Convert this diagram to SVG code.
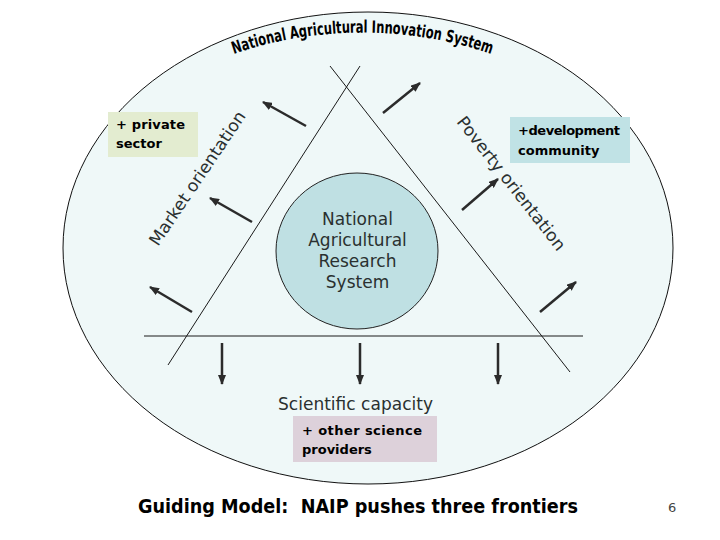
<svg xmlns="http://www.w3.org/2000/svg" width="720" height="540" viewBox="0 0 720 540">
<style>
.lbl{font-family:"DejaVu Sans","Liberation Sans",sans-serif;fill:#2a3030;font-size:17px}
.box{font-family:"DejaVu Sans","Liberation Sans",sans-serif;font-weight:bold;fill:#000;font-size:13px}
.thin{stroke:#1a1a1a;stroke-width:1;fill:none}
.arr{stroke:#2b2b2b;stroke-width:2.5;fill:none;marker-end:url(#ah)}
</style>
<defs>
<marker id="ah" markerUnits="userSpaceOnUse" markerWidth="10" markerHeight="8" refX="9" refY="4" orient="auto">
<path d="M0,0 L10,4 L0,8 z" fill="#2b2b2b"/>
</marker>
<path id="titleArc" d="M225,57 A400,400 0 0 1 500,57"/>
</defs>
<rect width="720" height="540" fill="#ffffff"/>
<g id="nais">
<ellipse cx="368" cy="248" rx="305" ry="236" fill="#eff8f8" stroke="#111" stroke-width="1"/>
<text font-family="'DejaVu Sans','Liberation Sans',sans-serif" font-weight="bold" font-size="17" fill="#000"><textPath href="#titleArc" startOffset="50%" text-anchor="middle" textLength="262" lengthAdjust="spacingAndGlyphs">National Agricultural Innovation System</textPath></text>
</g>
<g id="connectors">
<line class="thin" x1="360" y1="66" x2="168" y2="365"/>
<line class="thin" x1="330" y1="66" x2="570" y2="372"/>
<line class="thin" x1="144" y1="336" x2="583" y2="336"/>
<line class="arr" x1="306" y1="126" x2="263" y2="102"/>
<line class="arr" x1="252" y1="222" x2="210" y2="198"/>
<line class="arr" x1="192" y1="312" x2="150" y2="287"/>
<line class="arr" x1="383" y1="113" x2="420" y2="83"/>
<line class="arr" x1="462" y1="210" x2="498" y2="179"/>
<line class="arr" x1="540" y1="312" x2="576" y2="282"/>
<line class="arr" x1="222" y1="343" x2="222" y2="384"/>
<line class="arr" x1="360" y1="343" x2="360" y2="384"/>
<line class="arr" x1="498" y1="343" x2="498" y2="384"/>
</g>
<g id="nars">
<ellipse cx="357" cy="251" rx="81" ry="78" fill="#bfe0e3" stroke="#222" stroke-width="1"/>
<text class="lbl" text-anchor="middle"><tspan x="357.5" y="225">National</tspan><tspan x="357.5" y="246">Agricultural</tspan><tspan x="357.5" y="267">Research</tspan><tspan x="357.5" y="288">System</tspan></text>
</g>
<g id="market">
<text class="lbl" font-size="19" transform="translate(158,247) rotate(-56)" textLength="158" lengthAdjust="spacingAndGlyphs">Market orientation</text>
</g>
<g id="poverty">
<text class="lbl" font-size="19" transform="translate(456,122) rotate(52)" textLength="165" lengthAdjust="spacingAndGlyphs">Poverty orientation</text>
</g>
<g id="private">
<rect x="108" y="112" width="90" height="45" fill="#e3ecd0"/>
<text class="box"><tspan x="116" y="129" textLength="69">+ private</tspan><tspan x="116" y="148">sector</tspan></text>
</g>
<g id="development">
<rect x="510" y="117" width="120" height="46" fill="#c0e2e5"/>
<text class="box"><tspan x="518" y="135" textLength="102">+development</tspan><tspan x="518" y="155">community</tspan></text>
</g>
<g id="science">
<text class="lbl" x="278" y="410" textLength="155">Scientific capacity</text>
<rect x="293" y="416" width="144" height="46" fill="#ddd1da"/>
<text class="box"><tspan x="302" y="435" textLength="120">+ other science</tspan><tspan x="302" y="454">providers</tspan></text>
</g>
<g id="footer">
<text x="138" y="513" xml:space="preserve" font-family="'DejaVu Sans','Liberation Sans',sans-serif" font-weight="bold" font-size="20" fill="#000" textLength="440" lengthAdjust="spacingAndGlyphs">Guiding Model:  NAIP pushes three frontiers</text>
<text x="668" y="512" font-family="'DejaVu Sans','Liberation Sans',sans-serif" font-size="13" fill="#444">6</text>
</g>
</svg>
